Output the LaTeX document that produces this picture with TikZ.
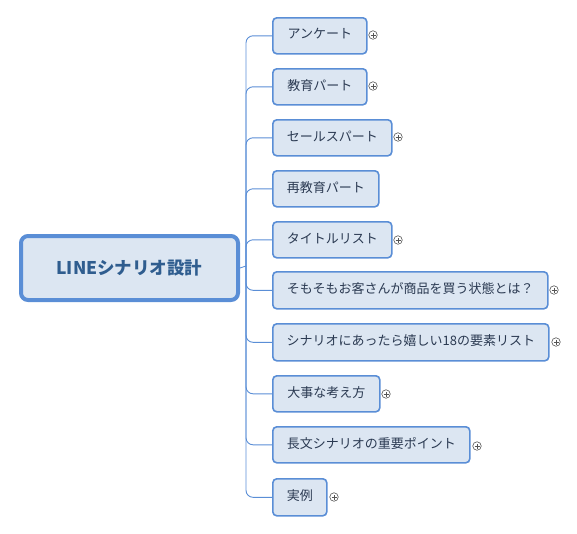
\documentclass[tikz,border=0pt]{standalone}
\usepackage{fontspec}
\setmainfont{Noto Sans CJK JP}
\usetikzlibrary{positioning}
\definecolor{bord}{HTML}{5A8ED6}
\definecolor{boxfill}{HTML}{DCE6F2}
\definecolor{roottext}{HTML}{2F5D8F}
\definecolor{childtext}{HTML}{2B3A52}
\definecolor{plusgray}{HTML}{555555}
\tikzset{
  x=1pt, y=-1pt,
  rootbox/.style={draw=bord, line width=4pt, fill=boxfill, rounded corners=7pt,
    minimum width=217pt, minimum height=64pt, anchor=north west,
    font=\fontsize{17.5}{21}\selectfont\bfseries, text=roottext},
  childbox/.style={draw=bord, line width=1.6pt, fill=boxfill, rounded corners=4pt,
    minimum height=36pt, anchor=north west, inner sep=0pt,
    font=\fontsize{13}{15}\selectfont, text=childtext, text depth=4pt},
  conn/.style={draw=bord, line width=0.9pt, rounded corners=7pt},
  plusmark/.style={circle, draw=plusgray, line width=0.6pt, minimum size=8.5pt, inner sep=0pt,
    path picture={\draw[plusgray, line width=0.6pt]
      ([xshift=-2.5pt]path picture bounding box.center) -- ([xshift=2.5pt]path picture bounding box.center)
      ([yshift=-2.5pt]path picture bounding box.center) -- ([yshift=2.5pt]path picture bounding box.center);}},
}
\begin{document}
\begin{tikzpicture}
\useasboundingbox (0,0) rectangle (577,533);
\node[rootbox] (root) at (19,234) {LINEシナリオ設計};
\coordinate (j) at (246,266);
\node[childbox, minimum width=94pt]  (c1)  at (272,17)  {アンケート};
\node[childbox, minimum width=94pt]  (c2)  at (272,68)  {教育パート};
\node[childbox, minimum width=119pt] (c3)  at (272,119) {セールスパート};
\node[childbox, minimum width=106pt] (c4)  at (272,170) {再教育パート};
\node[childbox, minimum width=119pt] (c5)  at (272,221) {タイトルリスト};
\node[childbox, minimum width=275pt, minimum height=37pt] (c6)  at (272,271) {そもそもお客さんが商品を買う状態とは？};
\node[childbox, minimum width=276pt, minimum height=37pt] (c7)  at (272,323) {シナリオにあったら嬉しい18の要素リスト};
\node[childbox, minimum width=107pt] (c8)  at (272,375) {大事な考え方};
\node[childbox, minimum width=197pt] (c9)  at (272,426) {長文シナリオの重要ポイント};
\node[childbox, minimum width=54pt, minimum height=37pt]  (c10) at (272,478) {実例};
\draw[draw=bord, line width=0.9pt] (root.east) -- (j);
\foreach \c in {c1,c2,c3,c4,c5,c6,c7,c8,c9,c10}{
  \draw[conn] (j) |- (\c.west);
}
\node[plusmark] (p1)  at (373,35)  {};
\node[plusmark] (p2)  at (373,86)  {};
\node[plusmark] (p3)  at (398,137) {};
\node[plusmark] (p5)  at (398,240) {};
\node[plusmark] (p6)  at (554,290) {};
\node[plusmark] (p7)  at (556,342) {};
\node[plusmark] (p8)  at (386,394) {};
\node[plusmark] (p9)  at (477,446) {};
\node[plusmark] (p10) at (334,497) {};
\end{tikzpicture}
\end{document}
